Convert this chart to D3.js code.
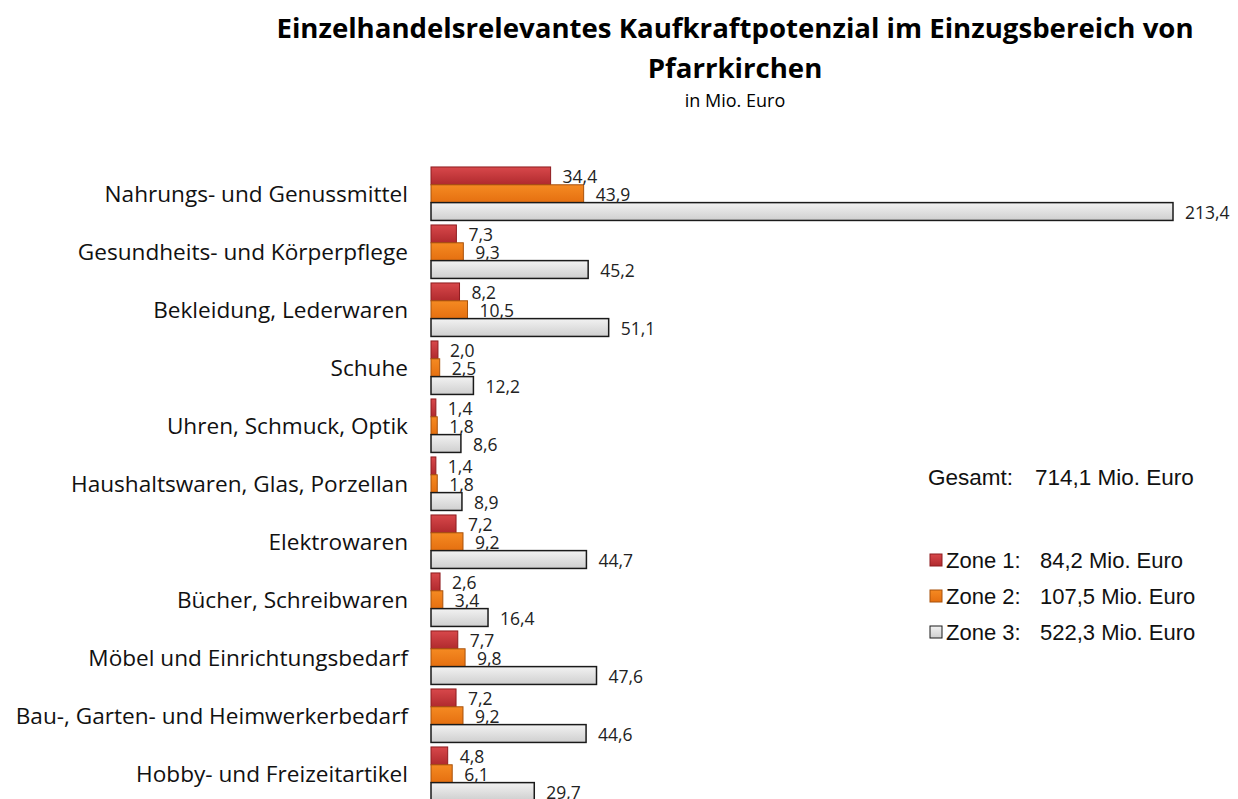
<!DOCTYPE html>
<html>
<head>
<meta charset="utf-8">
<script src="https://cdn.jsdelivr.net/npm/d3@7"></script>
<style>
  body { margin: 0; background: #fff; }
</style>
</head>
<body>
<div id="chart"></div>
<script>
const categories = [
    "Nahrungs- und Genussmittel",
    "Gesundheits- und Körperpflege",
    "Bekleidung, Lederwaren",
    "Schuhe",
    "Uhren, Schmuck, Optik",
    "Haushaltswaren, Glas, Porzellan",
    "Elektrowaren",
    "Bücher, Schreibwaren",
    "Möbel und Einrichtungsbedarf",
    "Bau-, Garten- und Heimwerkerbedarf",
    "Hobby- und Freizeitartikel"
];
const zones = ["Zone 1", "Zone 2", "Zone 3"];
const zone1 = [34.4, 7.3, 8.2, 2.0, 1.4, 1.4, 7.2, 2.6, 7.7, 7.2, 4.8];
const zone2 = [43.9, 9.3, 10.5, 2.5, 1.8, 1.8, 9.2, 3.4, 9.8, 9.2, 6.1];
const zone3 = [213.4, 45.2, 51.1, 12.2, 8.6, 8.9, 44.7, 16.4, 47.6, 44.6, 29.7];
const zoneTotals = ["84,2", "107,5", "522,3"];
const totalLabel = "714,1";

const W = 1238, H = 799;
const svg = d3.select("#chart").append("svg")
    .attr("width", W).attr("height", H)
    .style("font-family", "'Open Sans', sans-serif");

// gradients
const defs = svg.append("defs");
const fills = [
    { id: "g1", top: "#d8484b", bottom: "#b02a2e", stroke: "#8e1c20" },
    { id: "g2", top: "#f58a22", bottom: "#e56f10", stroke: "#a8520c" },
    { id: "g3", top: "#f2f2f2", bottom: "#cfcfcf", stroke: "#1a1a1a" }
];
fills.forEach(f => {
    const g = defs.append("linearGradient").attr("id", f.id)
        .attr("x1", 0).attr("y1", 0).attr("x2", 0).attr("y2", 1);
    g.append("stop").attr("offset", "0%").attr("stop-color", f.top);
    g.append("stop").attr("offset", "100%").attr("stop-color", f.bottom);
});

// title
svg.append("text")
    .attr("x", 735).attr("y", 38)
    .attr("text-anchor", "middle")
    .attr("font-size", 27.6).attr("font-weight", "bold")
    .text("Einzelhandelsrelevantes Kaufkraftpotenzial im Einzugsbereich von");
svg.append("text")
    .attr("x", 735).attr("y", 78)
    .attr("text-anchor", "middle")
    .attr("font-size", 27.6).attr("font-weight", "bold")
    .text("Pfarrkirchen");
svg.append("text")
    .attr("x", 735).attr("y", 107)
    .attr("text-anchor", "middle")
    .attr("font-size", 18)
    .text("in Mio. Euro");

// scales
const x = d3.scaleLinear().domain([0, 213.4]).range([431, 1173]);
const y = d3.scaleBand().domain(categories)
    .range([164.7, 802.7])
    .paddingInner(0.078).paddingOuter(0.039);
const yz = d3.scaleBand().domain(zones).range([0, y.bandwidth()]);

const rows = categories.map((c, i) => ({ cat: c, vals: [zone1[i], zone2[i], zone3[i]] }));

// category labels
svg.append("g").selectAll("text")
    .data(categories)
    .enter().append("text")
    .attr("x", 408)
    .attr("y", d => y(d) + y.bandwidth() / 2)
    .attr("dy", "0.35em")
    .attr("text-anchor", "end")
    .attr("font-size", 22.6)
    .attr("fill", "#111")
    .text(d => d);

const groups = svg.append("g").selectAll("g")
    .data(rows)
    .enter().append("g")
    .attr("transform", d => `translate(0,${y(d.cat)})`);

groups.selectAll("rect")
    .data(d => d.vals.map((v, k) => ({ v, k })))
    .enter().append("rect")
    .attr("x", x(0))
    .attr("y", d => yz(zones[d.k]))
    .attr("width", d => x(d.v) - x(0))
    .attr("height", yz.bandwidth())
    .attr("fill", d => `url(#${fills[d.k].id})`)
    .attr("stroke", d => fills[d.k].stroke)
    .attr("stroke-width", d => d.k === 2 ? 1.5 : 1);

const fmt = v => d3.format(".1f")(v).replace(".", ",");

groups.selectAll("text")
    .data(d => d.vals.map((v, k) => ({ v, k })))
    .enter().append("text")
    .attr("x", d => x(d.v) + 12)
    .attr("y", d => yz(zones[d.k]) + yz.bandwidth() / 2 + 1)
    .attr("dy", "0.35em")
    .attr("font-size", 17.5)
    .attr("fill", "#222")
    .text(d => fmt(d.v));

// legend
const legend = svg.append("g").style("font-family", "'Liberation Sans', Arial, sans-serif");
legend.append("text")
    .attr("x", 928).attr("y", 477).attr("dy", "0.35em")
    .attr("font-size", 22.5).attr("fill", "#111")
    .text("Gesamt:");
legend.append("text")
    .attr("x", 1035).attr("y", 477).attr("dy", "0.35em")
    .attr("font-size", 22.5).attr("fill", "#111")
    .text(totalLabel + " Mio. Euro");

const ly = d3.scalePoint().domain(zones).range([560, 632]);
zones.forEach((z, k) => {
    legend.append("rect")
        .attr("x", 930).attr("y", ly(z) - 6)
        .attr("width", 12).attr("height", 12)
        .attr("fill", `url(#${fills[k].id})`)
        .attr("stroke", fills[k].stroke);
    legend.append("text")
        .attr("x", 946).attr("y", ly(z)).attr("dy", "0.35em")
        .attr("font-size", 22).attr("fill", "#111")
        .text(z + ":");
    legend.append("text")
        .attr("x", 1040).attr("y", ly(z)).attr("dy", "0.35em")
        .attr("font-size", 22).attr("fill", "#111")
        .text(zoneTotals[k] + " Mio. Euro");
});
</script>
</body>
</html>
